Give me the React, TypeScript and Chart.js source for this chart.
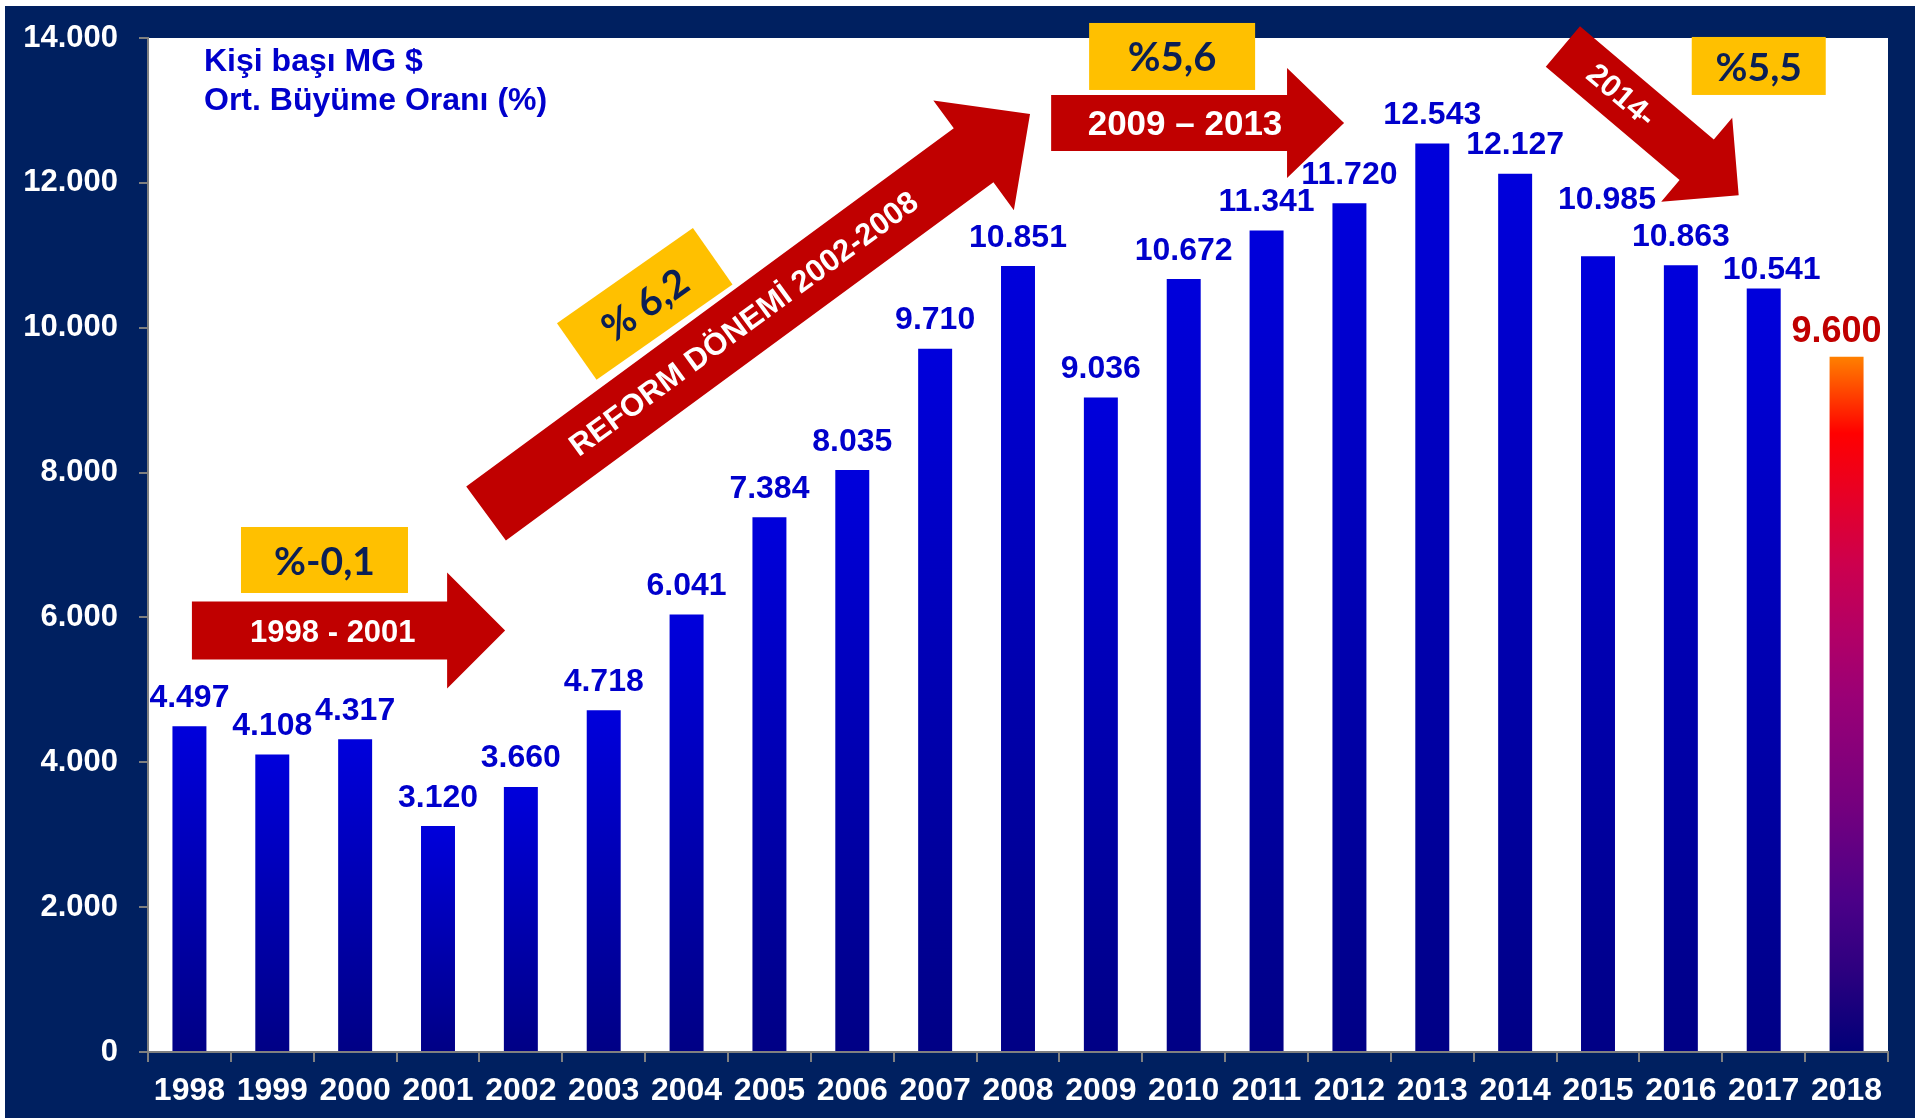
import React, { useEffect, useRef } from 'react';
import { Chart, registerables } from 'chart.js';

Chart.register(...registerables);

// ---------- data ----------
const YEARS = ['1998', '1999', '2000', '2001', '2002', '2003', '2004', '2005', '2006', '2007', '2008', '2009', '2010', '2011', '2012', '2013', '2014', '2015', '2016', '2017', '2018'];
const GDP_PER_CAPITA = [4497, 4108, 4317, 3120, 3660, 4718, 6041, 7384, 8035, 9710, 10851, 9036, 10672, 11341, 11720, 12543, 12127, 10985, 10863, 10541, 9600];
const Y_MIN = 0;
const Y_MAX = 14000;
const Y_STEP = 2000;
const FORECAST_YEAR = '2018';
const TITLE_LINES = ['Kişi başı MG $', 'Ort. Büyüme Oranı (%)'];

// period arrows (text + from/to in category-index / value space)
const ARROW_TEXTS = ['1998 - 2001', 'REFORM DÖNEMİ 2002-2008', '2009 – 2013', '2014-'];
const ARROW_FROM = [[0.03, 5821], [3.58, 7434], [10.4, 12828], [16.576, 13883]];
const ARROW_TO = [[3.81, 5821], [10.145, 12952], [13.935, 12828], [18.698, 11830]];

// growth-rate boxes
const BOX_TEXTS = ['%-0,1', '% 6,2', '%5,6', '%5,5'];
const BOX_AT = [[1.63, 6793], [5.495, 10328], [11.86, 13745], [18.94, 13614]];

// ---------- styles ----------
const NAVY = '#002060';
const RED = '#C00000';
const YELLOW = '#FFC000';
const BOX_TEXT = '#0B1F55';
const LABEL_BLUE = '#0000CC';
const AXIS_GREY = '#808080';
const SANS = "'Liberation Sans', Arial, sans-serif";
const BOX_FONT = "Lato, 'Open Sans', sans-serif";

const ARROW_STYLE = [
  { shaft: 58, head: 116, headLen: 58, font: 31, at: 0.45, dy: 3 },
  { shaft: 67, head: 136, headLen: 70, font: 31, at: 0.474, dy: 1 },
  { shaft: 56, head: 110, headLen: 57, font: 35, at: 0.457, dy: 2 },
  { shaft: 53, head: 110, headLen: 55, font: 31, at: 0.33, dy: 1 },
];
const BOX_STYLE = [
  { w: 167, h: 66, angle: 0, font: 39 },
  { w: 166, h: 69, angle: -35, font: 39 },
  { w: 166, h: 67, angle: 0, font: 40 },
  { w: 134, h: 58, angle: 0, font: 39 },
];
const LABEL_NUDGE: Record<number, [number, number]> = { 17: [9, -28], 19: [8, 10], 20: [-10, 5] };

const fmt = (v: number) => String(v).replace(/\B(?=(\d{3})+(?!\d))/g, '.');

const blueStops: [number, string][] = [[0, '#0000DC'], [1, '#000085']];
const forecastStops: [number, string][] = [
  [0, '#FF8000'], [0.11, '#FF0000'], [0.21, '#E4002A'], [0.3, '#CC004E'], [0.4, '#B20066'],
  [0.49, '#9A0076'], [0.64, '#76007E'], [0.78, '#4C0088'], [0.88, '#2E0080'], [1, '#000078'],
];

function barColor(ctx: any) {
  const chart = ctx.chart;
  const { chartArea, scales } = chart;
  if (!chartArea || ctx.type !== 'data' || !scales.y) return '#0000CC';
  const top = scales.y.getPixelForValue(ctx.raw);
  const base = scales.y.getPixelForValue(0);
  const g = chart.ctx.createLinearGradient(0, top, 0, base);
  const stops = YEARS[ctx.dataIndex] === FORECAST_YEAR ? forecastStops : blueStops;
  stops.forEach(([o, c]) => g.addColorStop(o, c));
  return g;
}

function drawArrow(c: CanvasRenderingContext2D, x0: number, y0: number, x1: number, y1: number, s: any, text: string) {
  const ang = Math.atan2(y1 - y0, x1 - x0);
  const L = Math.hypot(x1 - x0, y1 - y0);
  c.save();
  c.translate(x0, y0);
  c.rotate(ang);
  c.beginPath();
  c.moveTo(0, -s.shaft / 2);
  c.lineTo(L - s.headLen, -s.shaft / 2);
  c.lineTo(L - s.headLen, -s.head / 2);
  c.lineTo(L, 0);
  c.lineTo(L - s.headLen, s.head / 2);
  c.lineTo(L - s.headLen, s.shaft / 2);
  c.lineTo(0, s.shaft / 2);
  c.closePath();
  c.fillStyle = RED;
  c.fill();
  c.fillStyle = '#FFFFFF';
  c.font = `bold ${s.font}px ${SANS}`;
  c.textAlign = 'center';
  c.textBaseline = 'middle';
  c.fillText(text, L * s.at, s.dy);
  c.restore();
}

const decorPlugin = {
  id: 'decor',
  beforeDraw(chart: any) {
    const c = chart.ctx;
    const a = chart.chartArea;
    c.save();
    c.fillStyle = NAVY;
    c.fillRect(0, 0, chart.width, chart.height);
    c.fillStyle = '#FFFFFF';
    c.fillRect(a.left, a.top, a.right - a.left, a.bottom - a.top);
    c.restore();
  },
  afterDatasetsDraw(chart: any) {
    const c = chart.ctx;
    const meta = chart.getDatasetMeta(0);
    c.save();
    c.textAlign = 'center';
    c.textBaseline = 'alphabetic';
    meta.data.forEach((bar: any, i: number) => {
      const [dx, dy] = LABEL_NUDGE[i] || [0, 0];
      const isForecast = YEARS[i] === FORECAST_YEAR;
      c.font = `bold ${isForecast ? 36 : 32}px ${SANS}`;
      c.fillStyle = isForecast ? RED : LABEL_BLUE;
      c.fillText(fmt(GDP_PER_CAPITA[i]), bar.x + dx, bar.y - 19.5 + dy);
    });
    c.restore();
  },
  afterDraw(chart: any) {
    const c = chart.ctx;
    const a = chart.chartArea;
    const xs = chart.scales.x;
    const ys = chart.scales.y;
    const px = (i: number) => {
      const p0 = xs.getPixelForValue(0);
      const p1 = xs.getPixelForValue(1);
      return p0 + (p1 - p0) * i;
    };
    const py = (v: number) => ys.getPixelForValue(v);

    // title
    c.save();
    c.fillStyle = LABEL_BLUE;
    c.font = `bold 32px ${SANS}`;
    c.textAlign = 'left';
    c.textBaseline = 'alphabetic';
    TITLE_LINES.forEach((t, k) => c.fillText(t, a.left + 56, a.top + 33 + k * 38.6));
    c.restore();

    // arrows
    ARROW_TEXTS.forEach((t, k) => {
      drawArrow(c, px(ARROW_FROM[k][0]), py(ARROW_FROM[k][1]), px(ARROW_TO[k][0]), py(ARROW_TO[k][1]), ARROW_STYLE[k], t);
    });

    // growth boxes
    BOX_TEXTS.forEach((t, k) => {
      const s = BOX_STYLE[k];
      c.save();
      c.translate(px(BOX_AT[k][0]), py(BOX_AT[k][1]));
      c.rotate((s.angle * Math.PI) / 180);
      c.fillStyle = YELLOW;
      c.fillRect(-s.w / 2, -s.h / 2, s.w, s.h);
      c.fillStyle = BOX_TEXT;
      c.font = `bold ${s.font}px ${BOX_FONT}`;
      c.textAlign = 'center';
      c.textBaseline = 'middle';
      c.fillText(t, 0, 2);
      c.restore();
    });
  },
};

export default function App() {
  const ref = useRef<HTMLCanvasElement | null>(null);
  useEffect(() => {
    if (!ref.current) return;
    const chart = new Chart(ref.current, {
      type: 'bar',
      data: {
        labels: YEARS,
        datasets: [
          {
            data: GDP_PER_CAPITA,
            backgroundColor: barColor as any,
            borderWidth: 0,
            barPercentage: 0.41,
            categoryPercentage: 1,
          },
        ],
      },
      options: {
        responsive: false,
        animation: false,
        devicePixelRatio: 1,
        layout: { padding: { left: 10, top: 32, right: 27, bottom: 10 } },
        plugins: { legend: { display: false }, tooltip: { enabled: false }, title: { display: false } },
        scales: {
          x: {
            afterFit: (s: any) => { s.height = 56; s.paddingLeft = 0; s.paddingRight = 0; },
            grid: { display: true, drawOnChartArea: false, drawTicks: true, tickLength: 10, color: AXIS_GREY, lineWidth: 2, offset: true },
            border: { display: true, color: AXIS_GREY, width: 2 },
            ticks: { color: '#FFFFFF', font: { family: SANS, size: 32, weight: 'bold' }, padding: 10, maxRotation: 0, autoSkip: false },
          },
          y: {
            min: Y_MIN,
            max: Y_MAX,
            afterFit: (s: any) => { s.width = 133; s.paddingTop = 0; s.paddingBottom = 0; },
            grid: { display: true, drawOnChartArea: false, drawTicks: true, tickLength: 9, color: AXIS_GREY, lineWidth: 2 },
            border: { display: true, color: AXIS_GREY, width: 2 },
            ticks: { stepSize: Y_STEP, color: '#FFFFFF', font: { family: SANS, size: 31, weight: 'bold' }, padding: 21, callback: (v: any) => fmt(Number(v)) },
          },
        },
      },
      plugins: [decorPlugin],
    });
    return () => chart.destroy();
  }, []);

  return (
    <div style={{ position: 'absolute', left: 5, top: 6, width: 1910, height: 1112 }}>
      <canvas ref={ref} width={1910} height={1112} style={{ display: 'block' }} />
    </div>
  );
}
